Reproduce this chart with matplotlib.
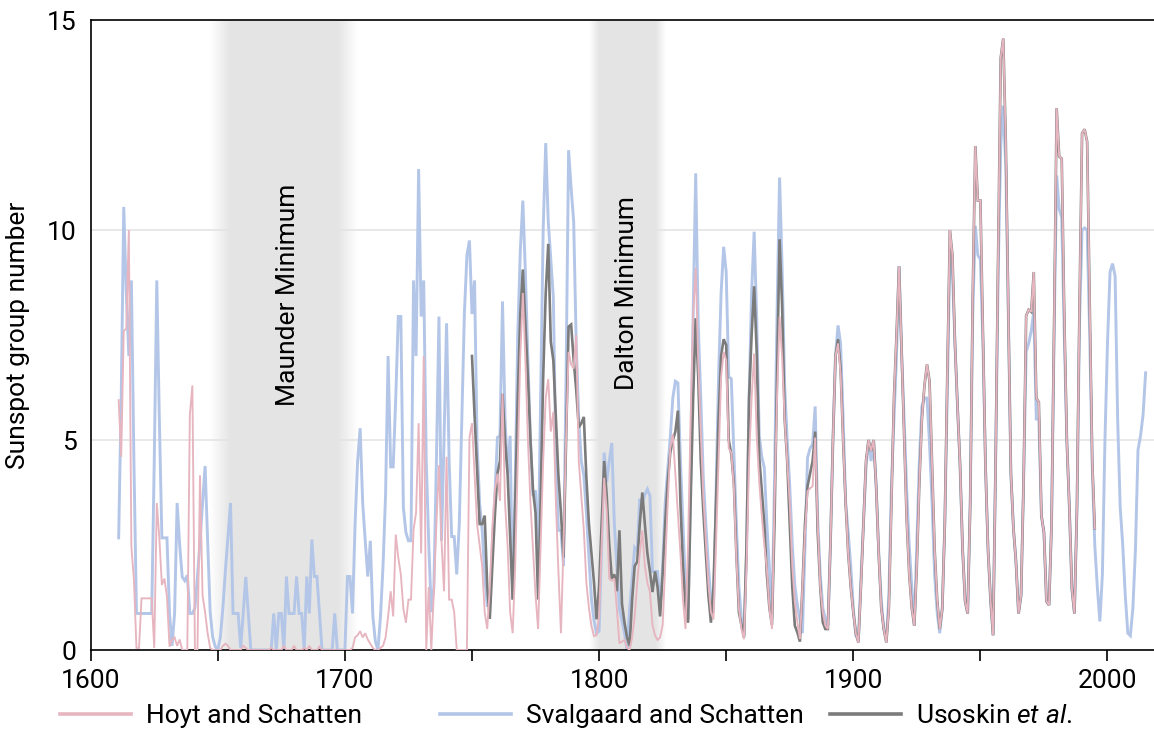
import numpy as np
import matplotlib
matplotlib.use("Agg")
import matplotlib.pyplot as plt
from matplotlib.lines import Line2D

plt.rcParams['font.family'] = ['Roboto', 'DejaVu Sans']
plt.rcParams['mathtext.fontset'] = 'custom'
plt.rcParams['mathtext.rm'] = 'Roboto'
plt.rcParams['mathtext.it'] = 'Roboto:italic'

# ---------------- data (yearly values, as positioned on the chart's axis) ----------------
hoyt_start = 1611
hoyt = [
    5.95, 4.6, 7.6, 7.65, 10.0, 2.46, 1.67, 0.05, 0.05, 1.23,      # 1611-1620
    1.23, 1.23, 1.23, 1.23, 0.05, 3.5, 2.67, 1.55, 1.7, 1.27,       # 1621-1630
    0.08, 0.25, 0.3, 0.1, 0.25, 0.0, 0.0, 0.0, 5.6, 6.3,            # 1631-1640
    0.0, 0.0, 4.16, 1.3, 0.9, 0.4, 0.05, 0.0, 0.0, 0.0,             # 1641-1650
    0.0, 0.1, 0.15, 0.1, 0.0, 0.0, 0.0, 0.0, 0.0, 0.1,              # 1651-1660
    0.05, 0.0, 0.0, 0.0, 0.0, 0.0, 0.0, 0.0, 0.0, 0.0,              # 1661-1670
    0.05, 0.0, 0.0, 0.0, 0.0, 0.1, 0.0, 0.0, 0.0, 0.1,              # 1671-1680
    0.0, 0.0, 0.0, 0.05, 0.0, 0.1, 0.0, 0.0, 0.0, 0.08,             # 1681-1690
    0.0, 0.0, 0.0, 0.0, 0.0, 0.0, 0.0, 0.0, 0.0, 0.0,               # 1691-1700
    0.0, 0.0, 0.05, 0.3, 0.35, 0.45, 0.3, 0.4, 0.25, 0.15,          # 1701-1710
    0.05, 0.0, 0.0, 0.05, 0.1, 0.3, 0.8, 1.4, 0.8, 2.75,            # 1711-1720
    2.2, 1.8, 0.98, 0.65, 1.2, 1.2, 2.86, 3.27, 5.4, 2.3,           # 1721-1730
    7.0, 0.0, 1.5, 0.0, 1.4, 3.0, 4.4, 2.6, 1.4, 4.6,               # 1731-1740
    1.2, 1.2, 0.9, 0.0, 0.0, 0.0, 0.0, 0.0, 5.06, 5.4,              # 1741-1750
    4.2, 3.0, 2.5, 2.0, 0.9, 0.5, 1.5, 2.9, 3.8, 4.2,               # 1751-1760
    3.55, 6.1, 3.5, 2.5, 0.9, 0.4, 2.0, 4.5, 7.0, 8.5,              # 1761-1770
    6.9, 5.0, 3.5, 2.4, 1.3, 0.5, 2.5, 4.5, 6.0, 6.45,              # 1771-1780
    5.2, 5.67, 3.5, 1.87, 0.4, 2.5, 5.0, 7.1, 6.8, 6.7,             # 1781-1790
    7.5, 4.5, 3.67, 2.85, 1.6, 1.0, 0.57, 0.33, 0.35, 0.8,          # 1791-1800
    2.5, 4.1, 3.3, 1.7, 1.65, 1.7, 0.97, 0.16, 0.2, 0.24,           # 1801-1810
    0.05, 0.0, 0.3, 0.8, 1.6, 2.3, 2.85, 2.0, 1.6, 1.38,            # 1811-1820
    0.6, 0.35, 0.24, 0.3, 0.6, 2.0, 3.5, 4.8, 5.14, 4.2,            # 1821-1830
    3.26, 2.3, 1.2, 0.5, 2.5, 5.5, 8.0, 9.1, 6.9, 5.2,              # 1831-1840
    3.67, 2.6, 1.6, 0.9, 0.73, 2.5, 4.5, 6.5, 7.1, 6.9,             # 1841-1850
    4.8, 4.7, 3.9, 2.2, 1.0, 0.5, 0.26, 2.0, 4.5, 6.0,              # 1851-1860
    7.06, 5.1, 4.0, 3.2, 2.5, 1.94, 1.0, 0.5, 3.5, 6.0,             # 1861-1870
    7.94, 6.98, 5.5, 4.5, 3.5, 2.0, 1.14, 0.66, 0.26, 1.5,          # 1871-1880
    2.8, 3.78, 3.85, 3.9, 5.06, 3.0, 1.5, 0.9, 0.58, 0.5,           # 1881-1890
    2.5, 5.0, 7.0, 7.3, 6.6, 5.0, 3.5, 2.3, 1.5, 0.9,               # 1891-1900
    0.4, 0.18, 1.5, 3.0, 4.5, 5.0, 4.74, 5.0, 3.9, 2.3,             # 1901-1910
    1.0, 0.5, 0.18, 1.0, 3.5, 6.0, 7.5, 9.14, 7.1, 5.1,             # 1911-1920
    3.1, 1.8, 1.0, 0.58, 2.0, 4.0, 5.5, 6.3, 6.8, 6.4,              # 1921-1930
    4.4, 2.4, 1.2, 0.5, 0.97, 3.0, 6.6, 10.0, 9.4, 7.3,             # 1931-1940
    5.8, 4.4, 2.4, 1.16, 0.87, 3.5, 8.5, 12.0, 10.7, 10.7,          # 1941-1950
    7.5, 4.4, 2.4, 1.2, 0.35, 4.5, 9.5, 14.1, 14.56, 12.1,          # 1951-1960
    8.0, 4.2, 2.9, 2.1, 0.87, 1.3, 4.0, 7.96, 8.1, 8.05,            # 1961-1970
    9.0, 6.0, 5.9, 3.2, 2.8, 1.16, 1.07, 3.0, 7.7, 12.9,            # 1971-1980
    11.75, 11.7, 8.0, 5.0, 3.4, 1.46, 0.87, 3.4, 8.25, 12.3,        # 1981-1990
    12.4, 12.1, 8.25, 4.5, 2.9,                                     # 1991-1995
]

svalgaard_start = 1611
svalgaard = [
    2.67, 6.0, 10.55, 8.5, 7.0, 8.8, 4.5, 0.87, 0.87, 0.87,         # 1611-1620
    0.87, 0.87, 0.87, 0.87, 4.5, 8.8, 5.5, 2.67, 2.67, 2.67,        # 1621-1630
    0.87, 0.1, 0.87, 3.5, 2.5, 1.74, 1.65, 1.78, 0.87, 0.87,        # 1631-1640
    1.0, 1.74, 2.6, 3.5, 4.38, 2.6, 0.9, 0.3, 0.08, 0.0,            # 1641-1650
    0.3, 1.0, 1.9, 2.7, 3.5, 0.87, 0.87, 0.87, 0.05, 0.87,          # 1651-1660
    1.74, 0.87, 0.0, 0.0, 0.0, 0.0, 0.0, 0.0, 0.0, 0.0,             # 1661-1670
    0.0, 0.87, 0.0, 0.87, 0.87, 0.0, 1.75, 0.87, 0.87, 0.87,        # 1671-1680
    1.75, 0.87, 0.87, 0.0, 1.75, 0.87, 2.63, 1.75, 1.75, 0.87,      # 1681-1690
    0.0, 0.0, 0.0, 0.0, 0.0, 0.87, 0.0, 0.0, 0.0, 0.0,              # 1691-1700
    1.75, 1.75, 0.87, 3.0, 4.5, 5.28, 3.5, 2.6, 1.75, 2.6,          # 1701-1710
    0.8, 0.2, 0.0, 0.8, 2.0, 3.7, 7.0, 4.36, 4.36, 6.0,             # 1711-1720
    7.94, 7.94, 3.4, 2.8, 2.6, 2.6, 8.8, 7.0, 11.45, 7.94,          # 1721-1730
    8.8, 4.5, 2.5, 0.9, 1.5, 4.5, 7.94, 2.6, 5.0, 7.78,             # 1731-1740
    4.5, 2.7, 2.7, 1.8, 3.0, 5.5, 8.0, 9.4, 9.75, 8.0,              # 1741-1750
    8.8, 4.9, 3.5, 2.85, 1.8, 1.06, 1.06, 2.5, 3.67, 5.06,          # 1751-1760
    5.1, 8.3, 5.5, 4.2, 5.1, 1.2, 4.0, 7.5, 9.5, 10.7,              # 1761-1770
    9.0, 6.9, 5.0, 3.67, 3.8, 2.0, 6.0, 10.0, 12.07, 10.2,          # 1771-1780
    9.3, 8.4, 4.5, 2.85, 2.85, 2.0, 6.5, 11.9, 11.0, 10.2,          # 1781-1790
    7.3, 5.5, 4.5, 4.15, 3.26, 2.2, 1.2, 0.7, 0.4, 0.45,            # 1791-1800
    2.5, 4.7, 4.0, 4.5, 4.93, 3.0, 2.0, 0.97, 0.7, 0.4,             # 1801-1810
    0.0, 0.97, 1.7, 2.44, 2.36, 3.6, 3.5, 3.7, 3.83, 3.67,          # 1811-1820
    1.87, 1.87, 1.87, 0.97, 2.0, 3.5, 4.3, 5.06, 6.0, 6.4,          # 1821-1830
    6.36, 4.5, 3.0, 1.5, 0.73, 4.0, 8.0, 11.35, 7.75, 6.0,          # 1831-1840
    4.1, 3.0, 2.0, 1.2, 0.9, 3.67, 6.5, 8.5, 9.6, 9.0,              # 1841-1850
    6.5, 6.46, 4.74, 3.0, 1.5, 0.74, 0.34, 2.3, 6.0, 8.5,           # 1851-1860
    9.96, 7.9, 5.1, 4.6, 4.34, 3.0, 1.96, 0.74, 4.0, 8.0,           # 1861-1870
    11.25, 9.1, 6.3, 5.0, 3.9, 2.5, 1.54, 1.06, 0.74, 0.4,          # 1871-1880
    2.5, 4.58, 4.8, 4.9, 5.8, 3.1, 1.8, 1.0, 0.74, 0.58,            # 1881-1890
    2.5, 5.0, 7.0, 7.73, 7.3, 5.5, 3.5, 2.8, 2.0, 1.0,              # 1891-1900
    0.34, 0.26, 1.7, 3.0, 4.34, 5.0, 4.5, 5.0, 3.9, 2.34,           # 1901-1910
    1.2, 0.5, 0.26, 1.3, 3.9, 5.5, 7.0, 9.14, 7.1, 5.5,             # 1911-1920
    3.8, 2.5, 1.5, 0.58, 2.5, 4.5, 5.8, 6.0, 6.0, 4.9,              # 1921-1930
    3.5, 1.8, 0.9, 0.4, 1.0, 3.0, 6.2, 9.4, 9.0, 7.3,               # 1931-1940
    5.8, 4.4, 2.4, 1.16, 0.87, 3.5, 8.0, 10.1, 9.4, 9.3,            # 1941-1950
    7.3, 4.4, 2.4, 1.2, 0.35, 4.5, 9.0, 12.0, 12.96, 11.5,          # 1951-1960
    8.0, 4.2, 2.9, 2.1, 0.87, 1.3, 4.0, 7.1, 7.3, 7.6,              # 1961-1970
    8.05, 5.5, 5.5, 3.2, 2.8, 1.16, 1.07, 3.0, 7.5, 11.3,           # 1971-1980
    10.5, 10.3, 7.5, 5.0, 3.4, 1.46, 0.87, 3.4, 7.8, 10.0,          # 1981-1990
    10.05, 10.0, 7.5, 4.4, 2.5, 1.5, 0.68, 1.8, 5.0, 7.3,           # 1991-2000
    9.0, 9.2, 8.9, 5.5, 3.4, 2.5, 1.3, 0.4, 0.34, 1.0,              # 2001-2010
    2.4, 4.76, 5.1, 5.6, 6.6,                                       # 2011-2015
]

usoskin_start = 1750
usoskin_early = [
    7.0, 5.6, 4.3, 3.0, 3.0, 3.2, 1.5, 0.74, 2.0, 3.2,              # 1750-1759
    4.2, 4.5, 6.1, 5.0, 4.2, 2.7, 1.2, 3.5, 6.0, 8.0,               # 1760-1769
    9.06, 7.75, 6.5, 5.0, 3.8, 3.26, 1.2, 3.5, 6.5, 8.5,            # 1770-1779
    9.67, 7.34, 6.9, 5.5, 4.15, 3.26, 2.2, 5.0, 7.7, 7.75,          # 1780-1789
    6.9, 6.2, 5.3, 5.4, 5.55, 4.1, 3.0, 2.3, 1.6, 0.73,             # 1790-1799
    1.5, 3.0, 4.5, 3.67, 2.5, 1.7, 1.8, 1.4, 2.85, 1.1,             # 1800-1809
    0.65, 0.3, 0.1, 1.2, 2.0, 2.1, 3.0, 3.75, 3.0, 2.3,             # 1810-1819
    1.87, 1.38, 1.87, 1.5, 0.8, 1.8, 3.0, 4.0, 4.7, 5.0,            # 1820-1829
    5.2, 5.7, 3.5, 2.0, 1.0, 0.65, 3.5, 6.0, 7.9, 6.5,              # 1830-1839
    4.5, 3.3, 2.3, 1.3, 0.65, 1.5, 3.5, 5.5, 7.0, 7.4,              # 1840-1849
    7.26, 5.0, 4.66, 4.0, 2.3, 0.9, 0.6, 0.3, 2.5, 6.0,             # 1850-1859
    7.5, 8.66, 7.1, 4.6, 3.8, 3.0, 1.8, 1.0, 0.6, 3.0,              # 1860-1869
    6.5, 9.78, 8.2, 5.5, 4.5, 3.0, 1.5, 0.58, 0.42, 0.2,            # 1870-1879
    1.5, 3.0, 3.9, 4.2, 4.5, 5.2, 2.8, 1.5, 0.66, 0.5,              # 1880-1889
    0.5, 2.5, 5.0, 7.0, 7.4, 6.7, 5.0, 3.5, 2.3, 1.5,               # 1890-1899
]
# from 1900 on, the Usoskin et al. curve lies on the Hoyt and Schatten curve
usoskin = usoskin_early + hoyt[1900 - hoyt_start:]

# shaded minima: (fade-in start, full start, full end, fade-out end)
minima_names = ["Maunder Minimum", "Dalton Minimum"]
minima_spans = [(1647, 1655, 1697, 1705), (1796, 1800, 1822, 1826)]
label_x = [1677.5, 1811]
label_y = [8.45, 8.5]

series_labels = ["Hoyt and Schatten", "Svalgaard and Schatten", r"Usoskin $\mathit{et\ al.}$"]
x_major = [1600, 1700, 1800, 1900, 2000]
x_minor = [1650, 1750, 1850, 1950]
y_ticks = [0, 5, 10, 15]

# ---------------- styling ----------------
pink = "#e6b5bf"
blue = "#b3c6e8"
grey = "#7b7b7b"
shade = (0.898, 0.898, 0.898)
FS = 19

fig = plt.figure(figsize=(11.54, 7.31), dpi=100)
ax = fig.add_axes([0.0786, 0.1108, 1 - 0.0786, 0.9726 - 0.1108])

# shaded minima with soft edges
for (a, b, c, d) in minima_spans:
    xs = np.linspace(a, d, 600)
    alpha = np.clip(np.minimum((xs - a) / (b - a), (d - xs) / (d - c)), 0, 1)
    img = np.zeros((1, xs.size, 4))
    img[..., 0], img[..., 1], img[..., 2] = shade
    img[0, :, 3] = alpha
    ax.imshow(img, extent=(a, d, 0, 15), aspect='auto', interpolation='bilinear', zorder=1)

for g in [5, 10]:
    ax.axhline(g, color="#e2e2e2", lw=1.1, zorder=0.5)

yrs_s = np.arange(svalgaard_start, svalgaard_start + len(svalgaard))
yrs_u = np.arange(usoskin_start, usoskin_start + len(usoskin))
yrs_h = np.arange(hoyt_start, hoyt_start + len(hoyt))
ax.plot(yrs_s, svalgaard, color=blue, lw=2.1, zorder=2, solid_joinstyle='miter')
ax.plot(yrs_u, usoskin, color=grey, lw=1.9, zorder=3, solid_joinstyle='miter')
ax.plot(yrs_h, hoyt, color=pink, lw=1.35, zorder=4, solid_joinstyle='miter')

for name, lx, ly in zip(minima_names, label_x, label_y):
    ax.text(lx, ly, name, rotation=90, ha='center', va='center', fontsize=FS, color='black', zorder=5)

ax.set_xlim(1600, 2018.3)
ax.set_ylim(0, 15)
ax.set_xticks(x_major)
ax.set_xticks(x_minor, minor=True)
ax.set_yticks(y_ticks)
ax.tick_params(axis='x', which='both', direction='out', length=8, width=1.2, pad=6, labelsize=FS)
ax.tick_params(axis='y', length=0, pad=10, labelsize=FS)
for s in ['left', 'bottom', 'top']:
    ax.spines[s].set_linewidth(1.2)
    ax.spines[s].set_color('black')
ax.spines['right'].set_visible(False)
ax.set_ylabel("Sunspot group number", fontsize=FS, labelpad=12)

# legend entries placed along the bottom
colors = [pink, blue, grey]
leg_x = [60 / 1154, 440 / 1154, 830 / 1154]
for lab, col, lx in zip(series_labels, colors, leg_x):
    h = Line2D([], [], color=col, lw=2.6)
    fig.legend([h], [lab], loc='center left', bbox_to_anchor=(lx, 1 - 716 / 731),
               frameon=False, fontsize=FS, handlelength=2.7, handletextpad=0.55,
               borderpad=0, borderaxespad=0)

fig.savefig("out.png", dpi=100)
